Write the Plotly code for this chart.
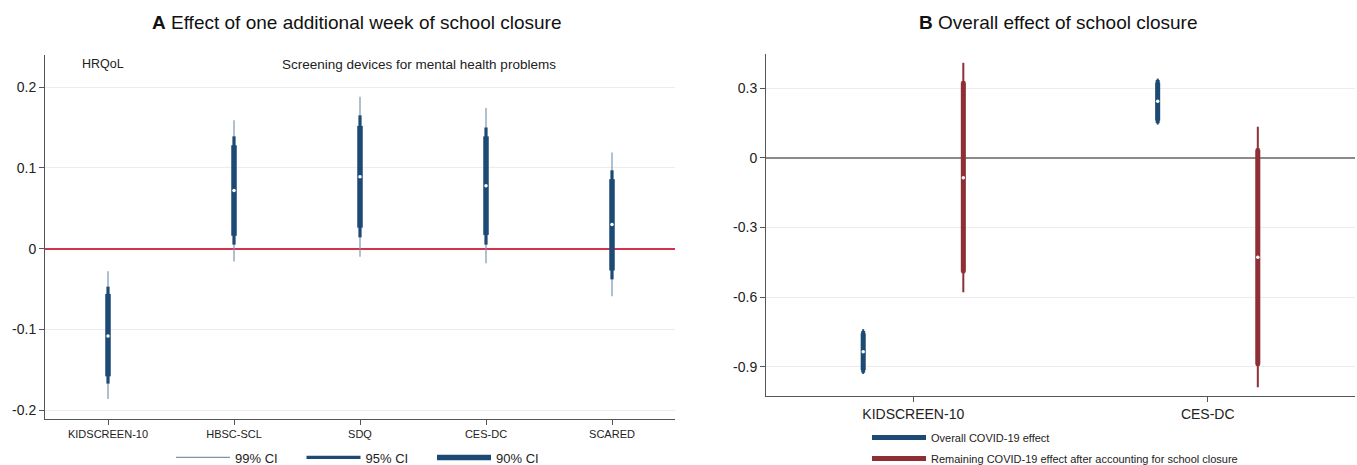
import plotly.graph_objects as go

# ---------------- Panel A data ----------------
cats_a = ["KIDSCREEN-10", "HBSC-SCL", "SDQ", "CES-DC", "SCARED"]
est_a = [-0.108, 0.072, 0.089, 0.078, 0.030]
lo99_a = [-0.186, -0.016, -0.010, -0.018, -0.059]
hi99_a = [-0.028, 0.159, 0.188, 0.174, 0.119]
lo95_a = [-0.167, 0.005, 0.014, 0.005, -0.038]
hi95_a = [-0.047, 0.139, 0.165, 0.150, 0.097]
lo90_a = [-0.158, 0.016, 0.026, 0.017, -0.027]
hi90_a = [-0.056, 0.128, 0.152, 0.139, 0.086]
yticks_a = [-0.2, -0.1, 0, 0.1, 0.2]
ytext_a = ["-0.2", "-0.1", "0", "0.1", "0.2"]

# ---------------- Panel B data ----------------
cats_b = ["KIDSCREEN-10", "CES-DC"]
series_b = ["Overall COVID-19 effect",
            "Remaining COVID-19 effect after accounting for school closure"]
est_b = {"overall": [-0.835, 0.244], "remaining": [-0.085, -0.428]}
lo99_b = {"overall": [-0.931, 0.144], "remaining": [-0.579, -0.988]}
hi99_b = {"overall": [-0.738, 0.342], "remaining": [0.410, 0.134]}
lo95_b = {"overall": [-0.925, 0.150], "remaining": [-0.497, -0.897]}
hi95_b = {"overall": [-0.746, 0.336], "remaining": [0.332, 0.042]}
lo90_b = {"overall": [-0.914, 0.161], "remaining": [-0.490, -0.890]}
hi90_b = {"overall": [-0.756, 0.325], "remaining": [0.325, 0.035]}
yticks_b = [-0.9, -0.6, -0.3, 0, 0.3]
ytext_b = ["-0.9", "-0.6", "-0.3", "0", "0.3"]

NAVY = "#1c4a74"
RED = "#8e2f36"
FONT = "Liberation Sans, Arial, Helvetica, sans-serif"


def segs(xs, lo, hi):
    X, Y = [], []
    for x, a, b in zip(xs, lo, hi):
        X += [x, x, None]
        Y += [a, b, None]
    return X, Y


fig = go.Figure()

# Panel A
xa = list(range(1, len(cats_a) + 1))
levels_a = [("99% CI", lo99_a, hi99_a, 1.2, "#7d96ad"),
            ("95% CI", lo95_a, hi95_a, 3.2, NAVY),
            ("90% CI", lo90_a, hi90_a, 5.5, NAVY)]
for name, lo, hi, w, col in levels_a:
    X, Y = segs(xa, lo, hi)
    fig.add_trace(go.Scatter(x=X, y=Y, mode="lines", name=name,
                             line=dict(color=col, width=w),
                             xaxis="x", yaxis="y", legend="legend",
                             hoverinfo="skip"))
fig.add_trace(go.Scatter(x=xa, y=est_a, mode="markers", showlegend=False,
                         marker=dict(color="white", size=3.5),
                         xaxis="x", yaxis="y", hoverinfo="skip"))

# Panel B
offsets = {"overall": -0.17, "remaining": 0.17}
colors_b = {"overall": NAVY, "remaining": RED}
names_b = {"overall": series_b[0], "remaining": series_b[1]}
for key in ["overall", "remaining"]:
    xb = [i + 1 + offsets[key] for i in range(len(cats_b))]
    for lo, hi, w, show in [(lo99_b[key], hi99_b[key], 2.0, False),
                            (lo95_b[key], hi95_b[key], 4.0, False),
                            (lo90_b[key], hi90_b[key], 5.0, True)]:
        X, Y = segs(xb, lo, hi)
        fig.add_trace(go.Scatter(x=X, y=Y, mode="lines", name=names_b[key],
                                 line=dict(color=colors_b[key], width=w),
                                 showlegend=show, legendgroup=key,
                                 xaxis="x2", yaxis="y2", legend="legend2",
                                 hoverinfo="skip"))
    fig.add_trace(go.Scatter(x=xb, y=est_b[key], mode="markers", showlegend=False,
                             marker=dict(color="white", size=3.5),
                             xaxis="x2", yaxis="y2", hoverinfo="skip"))

W, H = 1357, 465


def px(v):
    return v / W


def py(v):
    return 1 - v / H


axis_common = dict(showline=True, linecolor="#555555", linewidth=1,
                   ticks="outside", ticklen=5, tickcolor="#555555",
                   mirror=False, automargin=False)

fig.update_layout(
    width=W, height=H,
    margin=dict(l=0, r=0, t=0, b=0, autoexpand=False),
    paper_bgcolor="white", plot_bgcolor="white",
    font=dict(family=FONT, color="#222222"),
    showlegend=True,
    xaxis=dict(domain=[px(45), px(675)], range=[0.5, 5.5],
               tickvals=xa, ticktext=cats_a, showgrid=False, zeroline=False,
               tickfont=dict(size=11), anchor="y", **axis_common),
    yaxis=dict(domain=[py(419), py(55)], range=[-0.2108, 0.2397],
               tickvals=yticks_a, ticktext=ytext_a, showgrid=True,
               gridcolor="#ececec", gridwidth=1, zeroline=True,
               zerolinecolor="#d2344e", zerolinewidth=1.5,
               tickfont=dict(size=14), anchor="x", **axis_common),
    xaxis2=dict(domain=[px(766), px(1355)], range=[0.5, 2.5],
                tickvals=[1, 2], ticktext=cats_b, showgrid=False, zeroline=False,
                tickfont=dict(size=14), anchor="y2", **axis_common),
    yaxis2=dict(domain=[py(396), py(54)], range=[-1.026, 0.448],
                tickvals=yticks_b, ticktext=ytext_b, showgrid=True,
                gridcolor="#ececec", gridwidth=1, zeroline=True,
                zerolinecolor="#8a8a8a", zerolinewidth=1.5,
                tickfont=dict(size=14), anchor="x2", **axis_common),
    legend=dict(orientation="h", x=px(171), y=py(457.5), yanchor="middle",
                xanchor="left", entrywidth=61.5, entrywidthmode="pixels",
                itemwidth=54,
                font=dict(size=13), bgcolor="rgba(0,0,0,0)"),
    legend2=dict(orientation="v", x=px(867), y=py(423), yanchor="top",
                 xanchor="left", font=dict(size=11), tracegroupgap=2,
                 itemwidth=54,
                 bgcolor="rgba(0,0,0,0)"),
    annotations=[
        dict(text="<b>A</b> Effect of one additional week of school closure",
             xref="paper", yref="paper", x=px(356), y=py(22), showarrow=False,
             font=dict(size=19, color="#111111"), xanchor="center", yanchor="middle"),
        dict(text="<b>B</b> Overall effect of school closure",
             xref="paper", yref="paper", x=px(1058), y=py(22), showarrow=False,
             font=dict(size=19, color="#111111"), xanchor="center", yanchor="middle"),
        dict(text="HRQoL", xref="x", yref="paper", x=0.96, y=py(64),
             showarrow=False, font=dict(size=12.5), xanchor="center", yanchor="middle"),
        dict(text="Screening devices for mental health problems", xref="x",
             yref="paper", x=3.47, y=py(64), showarrow=False,
             font=dict(size=13.5), xanchor="center", yanchor="middle"),
    ],
)

fig.write_html("out.html", config={"displayModeBar": False},
               post_script="document.body.style.margin='0px';")
